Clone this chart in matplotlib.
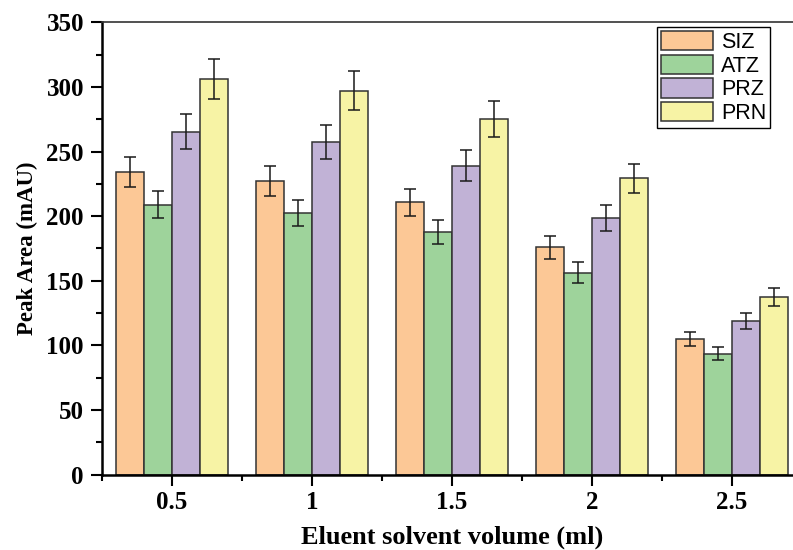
import matplotlib
matplotlib.use("Agg")
import matplotlib.pyplot as plt
import numpy as np
from matplotlib.ticker import MultipleLocator

volumes = [0.5, 1.0, 1.5, 2.0, 2.5]
xtick_labels = ["0.5", "1", "1.5", "2", "2.5"]
series_names = ["SIZ", "ATZ", "PRZ", "PRN"]
siz = [234.4, 227.2, 210.9, 175.8, 105.3]
siz_err = [11.5, 11.4, 10.5, 8.9, 5.4]
atz = [209.0, 202.4, 187.7, 156.4, 93.7]
atz_err = [10.3, 10.1, 9.4, 8.0, 4.8]
prz = [265.4, 257.4, 239.0, 198.8, 119.0]
prz_err = [13.3, 12.9, 12.0, 10.0, 6.2]
prn = [306.2, 297.1, 275.4, 229.2, 137.4]
prn_err = [15.3, 14.9, 13.8, 11.4, 6.9]

colors = ["#FCC896", "#9ED39B", "#C1B2D6", "#F7F3A5"]
values = [siz, atz, prz, prn]
errors = [siz_err, atz_err, prz_err, prn_err]

W, H = 793, 550
fig = plt.figure(figsize=(W / 100, H / 100), dpi=100)
left, right, top, bottom = 102, 802, 22.3, 474.7
ax = fig.add_axes([left / W, 1 - bottom / H, (right - left) / W, (bottom - top) / H])

bw = 0.1
offsets = [-1.5 * bw, -0.5 * bw, 0.5 * bw, 1.5 * bw]
x = np.array(volumes)
handles = []
for name, vals, errs, c, off in zip(series_names, values, errors, colors, offsets):
    b = ax.bar(x + off, vals, width=bw, color=c, edgecolor="#333333", linewidth=1.1,
               label=name, zorder=2)
    ax.errorbar(x + off, vals, yerr=errs, fmt="none", ecolor="#1a1a1a",
                elinewidth=1.1, capsize=4.3, capthick=1.1, zorder=3)
    handles.append(b)

ax.set_xlim(0.25, 2.75)
ax.set_ylim(0, 350)
ax.set_xticks(volumes)
ax.set_xticklabels(xtick_labels)
ax.xaxis.set_minor_locator(MultipleLocator(0.25))
ax.yaxis.set_major_locator(MultipleLocator(50))
ax.yaxis.set_minor_locator(MultipleLocator(25))

for lab in ax.get_xticklabels() + ax.get_yticklabels():
    lab.set_fontfamily("Liberation Serif")
    lab.set_fontweight("bold")
    lab.set_fontsize(18)

ax.tick_params(axis="both", which="major", direction="out", length=8, width=1.5, color="black")
ax.tick_params(axis="both", which="minor", direction="out", length=4, width=1.5, color="black")
ax.tick_params(axis="y", which="both", pad=5)
ax.tick_params(axis="x", which="both", pad=4)
ax.tick_params(top=False, right=False, which="both")

ax.spines["left"].set_linewidth(1.8)
ax.spines["bottom"].set_linewidth(1.8)
ax.spines["top"].set_linewidth(1.2)
ax.spines["top"].set_color("#333333")
ax.spines["right"].set_linewidth(1.2)

ax.set_xlabel("Eluent solvent volume (ml)", fontfamily="Liberation Serif",
              fontweight="bold", fontsize=19, labelpad=8)
ax.set_ylabel("Peak Area (mAU)", fontfamily="Liberation Serif",
              fontweight="bold", fontsize=16.5, labelpad=6)

leg = ax.legend(handles=handles, labels=series_names, loc="upper left",
                bbox_to_anchor=(657 / W, 1 - 27 / H), bbox_transform=fig.transFigure,
                borderaxespad=0, prop=dict(family="Liberation Sans", size=15.5),
                fancybox=False, frameon=True, edgecolor="black", framealpha=1,
                handlelength=2.4, handleheight=1.0, labelspacing=0.08,
                borderpad=0.18, handletextpad=0.4)
leg.get_frame().set_linewidth(1.0)

fig.savefig("out.png", dpi=100)
